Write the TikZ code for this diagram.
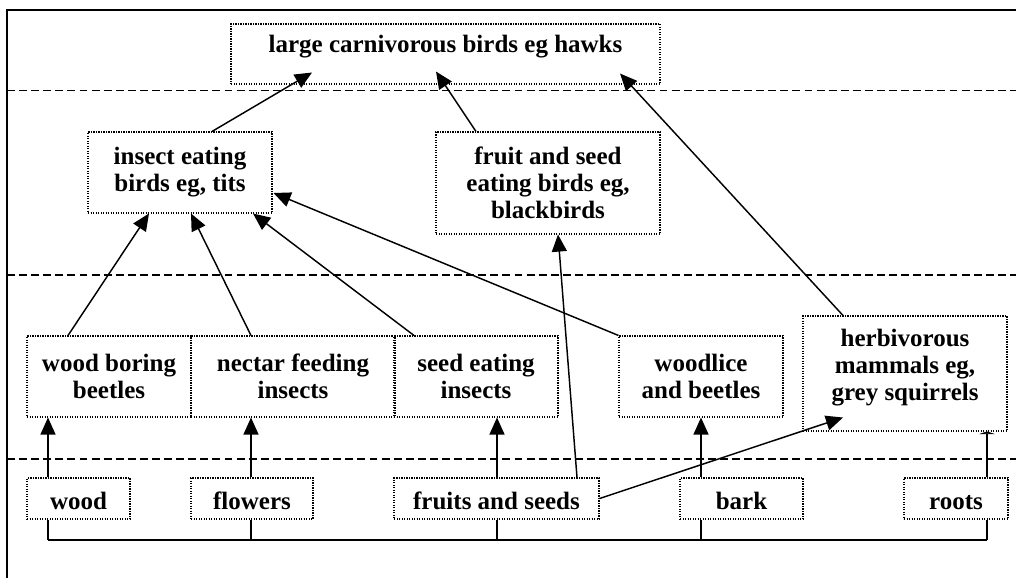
\documentclass[tikz,border=0pt]{standalone}
\usepackage{fontspec}
\setmainfont{Liberation Serif}
\usepackage{tikz}
\usetikzlibrary{positioning,calc,arrows.meta}

\tikzset{
  feed box/.style={draw, line width=0.5pt, dash pattern=on 0.6pt off 0.6pt,
    align=center, inner sep=0pt, font=\fontsize{12}{13}\selectfont\bfseries},
  food box/.style={feed box, text height=11pt, text depth=0pt, minimum height=41*0.48pt},
  herb 5/.style={text depth=8.4pt},
  level line/.style={line width=0.9pt, dash pattern=on 3.8pt off 2pt}
}

\begin{document}
\begin{tikzpicture}[x=0.48pt, y=-0.48pt, line width=0.7pt,
    >={Triangle[length=8.2pt,width=7.2pt]}]

    \useasboundingbox (0,0) rectangle (1016,578);

    \draw [line width=1pt] (7,578) -- (7,10) -- (1016,10);
    \foreach \y in {90.5,275,459}
      \draw [level line] (7,\y) -- (1016,\y);

    \node [feed box, text depth=9.8pt, minimum width=429*0.48pt, minimum height=60*0.48pt] (top-1)
      at (445.5,54) {large carnivorous birds eg hawks};

    \foreach \x/\y/\w/\h/\l [count=\i] in {180/172.5/184/81/{insect eating\\birds eg, tits},
        548/183/224/102/{fruit and seed\\eating birds eg,\\blackbirds}}
      \node [feed box, minimum width=\w*0.48pt, minimum height=\h*0.48pt] (bird-\i) at (\x,\y) {\l};

    \foreach \x/\y/\w/\h/\l [count=\i] in {109/376.5/164/81/{wood boring\\beetles},
        293/376.5/204/81/{nectar feeding\\insects}, 476/376.5/164/81/{seed eating\\insects},
        701/376.5/164/81/{woodlice\\and beetles}, 905/373.5/204/115/{herbivorous\\mammals eg,\\grey squirrels}}
      \node [feed box, herb \i/.try, minimum width=\w*0.48pt, minimum height=\h*0.48pt] (herb-\i) at (\x,\y) {\l};

    \foreach \x/\w/\l [count=\i] in {78.5/103/wood, 252/122/flowers, 496.5/205/fruits and seeds,
        741.5/123/bark, 956/104/roots}
      \node [food box, minimum width=\w*0.48pt] (food-\i) at (\x,498.5) {\l};

    \foreach \dx [count=\i] in {-30.5,-1,0.5,-40.5,31}
      \path (food-\i.north) ++(\dx,0) coordinate (stem-\i);

    \foreach \i in {1,...,4}
      \draw [->] (stem-\i) -- (stem-\i |- herb-\i.south);
    \draw [-{Triangle[length=1.2pt,width=7.5pt]}] (stem-5) -- (stem-5 |- herb-5.south);

    \coordinate (bus) at (0,540);
    \foreach \i in {1,...,5}
      \draw (stem-\i |- food-\i.south) -- (stem-\i |- bus);
    \draw (stem-1 |- bus) -- (stem-5 |- bus);

    \foreach \m/\dx/\t [count=\i] in {1/-41/-31, 2/-42/11, 3/-62/73}
      \draw [->] ($(herb-\m.north)+(\dx,0)$) -- ($(bird-1.south)+(\t,0)$);
    \draw [->] (herb-4.north west) -- ($(bird-1.east)+(1,20.5)$);

    \draw [->] ($(food-3.north)+(80.5,0)$) -- ($(bird-2.south)+(10,0)$);
    \draw [->] (food-3.east) -- ($(herb-5.south)+(-62,-14)$);

    \draw [->] ($(bird-1.north)+(32,0)$) -- ($(top-1.south)+(-133.5,-12)$);
    \draw [->] ($(bird-2.north)+(-72,0)$) -- ($(top-1.south)+(-9.5,-13)$);
    \draw [->] ($(herb-5.north)+(-62,0)$) -- ($(top-1.south)+(174.5,-11)$);
\end{tikzpicture}
\end{document}
